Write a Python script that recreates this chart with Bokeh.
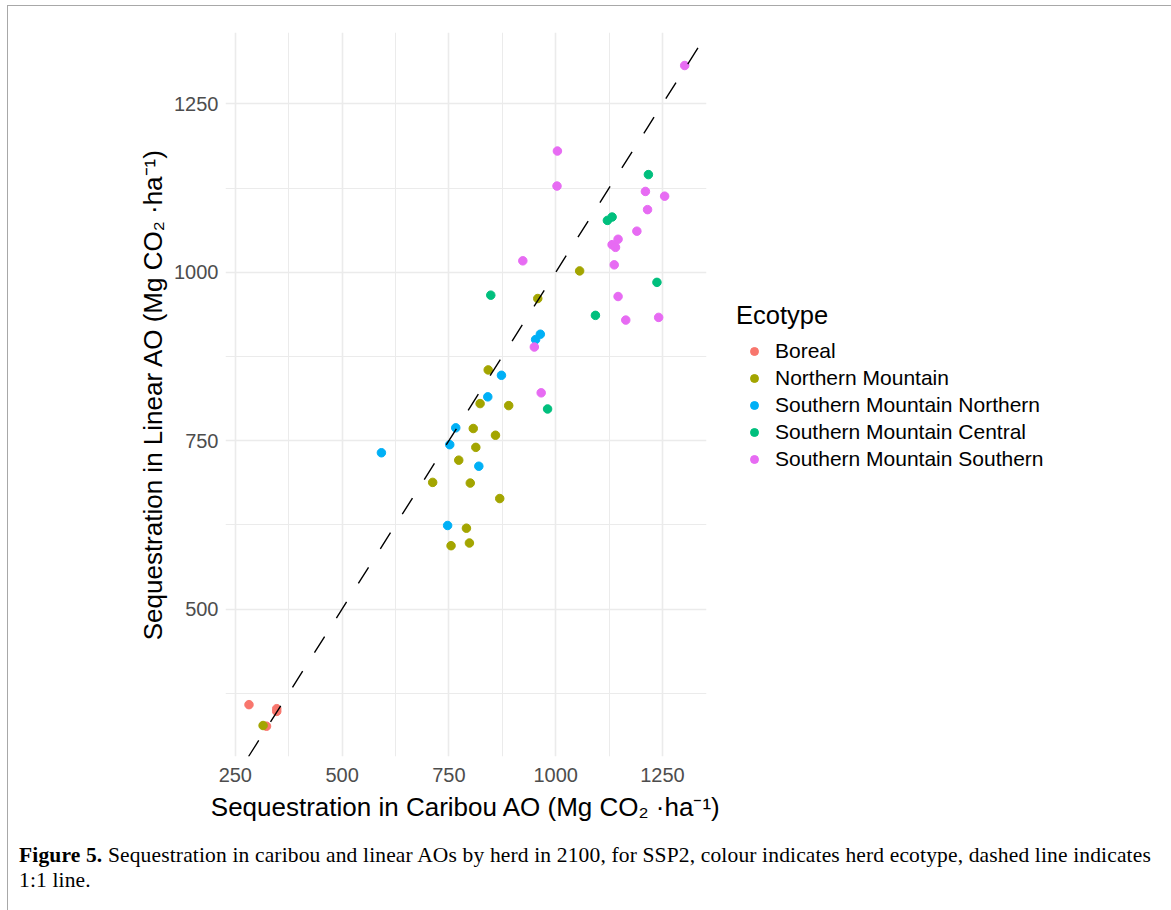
from bokeh.plotting import figure
from bokeh.models import Range1d, FixedTicker, Slope, Legend, LegendItem, Div, Column
from bokeh.embed import file_html
from bokeh.resources import INLINE

# ---- data ----
ecotypes = ["Boreal", "Northern Mountain", "Southern Mountain Northern",
            "Southern Mountain Central", "Southern Mountain Southern"]
colors = ["#F8766D", "#A3A500", "#00B0F6", "#00BF7D", "#E76BF3"]

boreal_x = [282, 347, 347, 323]
boreal_y = [358, 352, 348, 326]

nm_x = [1056, 958, 842, 823, 890, 807, 859, 813, 773, 712, 800, 869, 791, 755, 798, 315]
nm_y = [1002, 961, 855, 805, 802, 768, 758, 740, 721, 688, 687, 664, 620, 594, 598, 327]

smn_x = [964, 953, 873, 841, 766, 752, 592, 820, 747]
smn_y = [908, 900, 847, 815, 769, 744, 732, 712, 624]

smc_x = [1217, 1121, 1132, 1237, 848, 1093, 981]
smc_y = [1145, 1077, 1082, 985, 966, 936, 797]

sms_x = [1302, 1004, 1003, 1210, 1255, 1215, 1190, 1146, 1132, 1140, 1137, 923, 1146, 1164, 1241, 950, 966]
sms_y = [1307, 1180, 1128, 1120, 1113, 1093, 1061, 1049, 1041, 1037, 1011, 1017, 964, 929, 933, 889, 821]

series_x = [boreal_x, nm_x, smn_x, smc_x, sms_x]
series_y = [boreal_y, nm_y, smn_y, smc_y, sms_y]

major_ticks = [250, 500, 750, 1000, 1250]
minor_ticks = [375, 625, 875, 1125]

x_title = "Sequestration in Caribou AO (Mg CO\u2082 \u00b7ha\u207b\u00b9)"
y_title = "Sequestration in Linear AO (Mg CO\u2082 \u00b7ha\u207b\u00b9)"
caption_bold = "Figure 5."
caption_line1 = (" Sequestration in caribou and linear AOs by herd in 2100, for SSP2, "
                 "colour indicates herd ecotype, dashed line indicates")
caption_line2 = "1:1 line."

FONT = "Liberation Sans"

p = figure(output_backend="svg", toolbar_location=None,
           frame_width=481, frame_height=724,
           min_border_left=217, min_border_top=26, min_border_right=456, min_border_bottom=82,
           x_range=Range1d(227, 1353), y_range=Range1d(281, 1356),
           background_fill_color="white", border_fill_color="white")
p.outline_line_color = None

for ax in (p.xaxis[0], p.yaxis[0]):
    ax.ticker = FixedTicker(ticks=major_ticks, minor_ticks=minor_ticks)
    ax.axis_line_color = None
    ax.major_tick_line_color = None
    ax.minor_tick_line_color = None
    ax.major_tick_out = 0
    ax.major_tick_in = 0
    ax.major_label_text_font = FONT
    ax.major_label_text_font_size = "20px"
    ax.major_label_text_color = "#4D4D4D"
    ax.axis_label_text_font = FONT
    ax.axis_label_text_font_size = "26px"
    ax.axis_label_text_font_style = "normal"
    ax.axis_label_text_color = "black"

p.xaxis[0].major_label_standoff = 7
p.xaxis[0].axis_label_standoff = 7
p.yaxis[0].major_label_standoff = 3
p.yaxis[0].axis_label_standoff = 3

p.xaxis.axis_label = x_title
p.yaxis.axis_label = y_title

for g in (p.xgrid[0], p.ygrid[0]):
    g.grid_line_color = "#EBEBEB"
    g.grid_line_width = 1.6
    g.minor_grid_line_color = "#EBEBEB"
    g.minor_grid_line_width = 1.0

p.add_layout(Slope(gradient=1, y_intercept=0, line_color="black",
                   line_width=1.4, line_dash="19 22"))

items = []
for name, col, xs, ys in zip(ecotypes, colors, series_x, series_y):
    r = p.scatter(xs, ys, size=8.5, marker="circle", fill_color=col, line_color=col)
    items.append(LegendItem(label=name, renderers=[r]))

legend = Legend(items=items, location=(30, 285), title="Ecotype",
                title_text_font=FONT, title_text_font_size="25.5px", title_text_color="black",
                title_text_font_style="normal", title_standoff=9,
                label_text_font=FONT, label_text_font_size="21px", label_text_color="black",
                glyph_width=36, glyph_height=20, label_height=20, label_standoff=3,
                spacing=3, padding=0, margin=0,
                border_line_color=None, background_fill_alpha=0)
p.add_layout(legend, "right")

caption = Div(text=("<b>" + caption_bold + "</b>" + caption_line1 + "<br>" + caption_line2),
              width=1145, height=66,
              styles={"font-family": "'Liberation Serif', serif", "font-size": "21.5px",
                      "letter-spacing": "0.15px",
                      "line-height": "25px", "color": "black", "margin-left": "11px",
                      "white-space": "nowrap"})

root = Column(children=[p, caption], margin=(5, 0, 0, 7), spacing=0,
              styles={"border": "1.5px solid #A8A8A8", "background": "white"})

open("out.html", "w").write(file_html(root, INLINE))
